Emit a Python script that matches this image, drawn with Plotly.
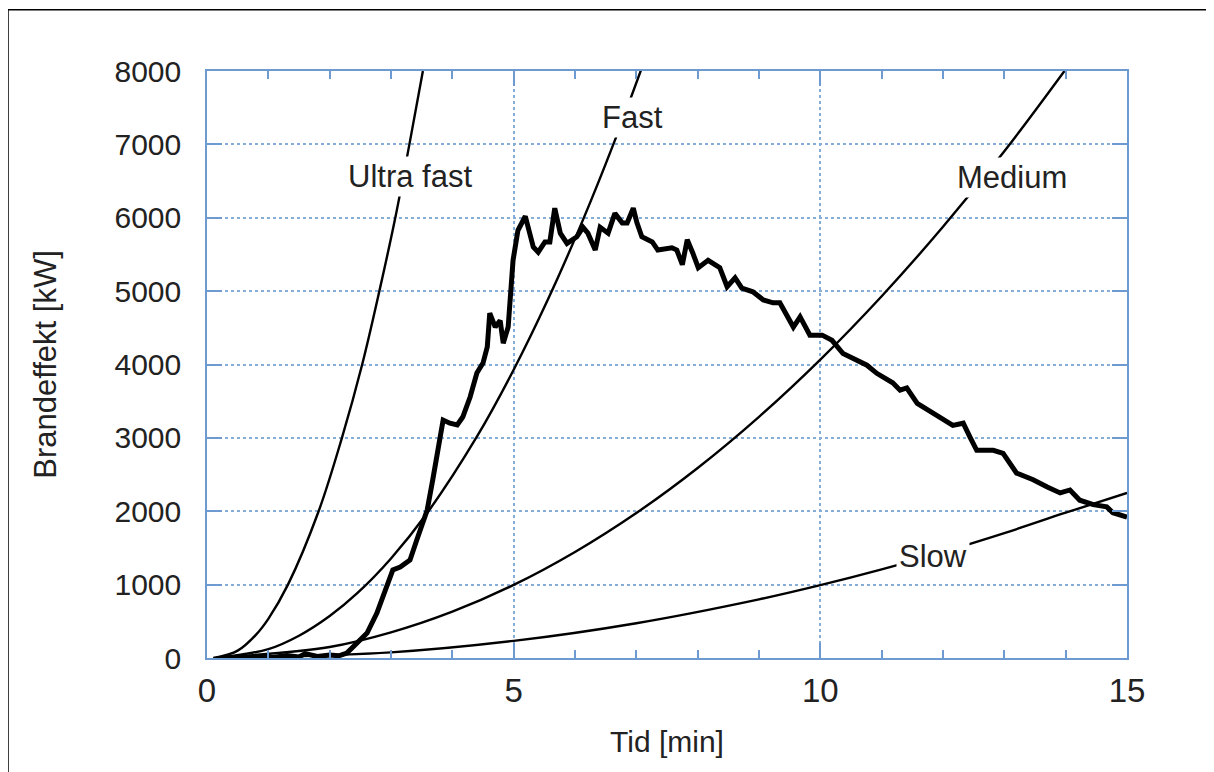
import plotly.graph_objects as go

# ---- data ----
ultra_t = [0.12, 0.5, 0.8, 1.0, 1.32, 1.82, 2.2, 2.53, 2.81, 3.07, 3.3, 3.52]
ultra_q = [0, 100, 319, 534, 1000, 2000, 3000, 4000, 5000, 6000, 7000, 8000]

fast_t = [0.15, 1.0, 1.5, 2.0, 2.45, 3.0, 3.59, 4.4, 5.0, 5.56, 6.13, 6.62, 7.09]
fast_q = [0, 121, 304, 572, 883, 1357, 1976, 3016, 3928, 4888, 5971, 6989, 8044]

medium_t = [0.1, 2, 3, 4, 5, 6, 7, 8, 9, 10, 11, 12, 13, 13.98]
medium_q = [0, 150, 349, 631, 996, 1445, 1976, 2590, 3287, 4067, 4931, 5877, 6906, 8000]

slow_t = [0.3, 3, 5, 7, 9, 10, 11, 12, 13, 14, 15]
slow_q = [0, 77, 233, 474, 799, 993, 1208, 1444, 1702, 1980, 2250]

test_t = [0.3, 0.8, 1.1, 1.3, 1.5, 1.6, 1.8, 2.0, 2.15, 2.28, 2.61, 2.77, 2.93, 3.03,
          3.15, 3.31, 3.42, 3.59, 3.68, 3.77, 3.85, 3.96, 4.08, 4.17, 4.29, 4.40,
          4.5, 4.57, 4.61, 4.7, 4.78, 4.83, 4.91, 4.99, 5.07, 5.19, 5.32, 5.4,
          5.51, 5.59, 5.67, 5.76, 5.87, 6.03, 6.13, 6.21, 6.33, 6.41, 6.54, 6.65,
          6.77, 6.85, 6.95, 7.01, 7.09, 7.26, 7.35, 7.58, 7.66, 7.75, 7.83, 7.92,
          8.01, 8.17, 8.25, 8.36, 8.48, 8.61, 8.72, 8.9, 9.07, 9.23, 9.34, 9.42,
          9.56, 9.67, 9.83, 10.03, 10.19, 10.37, 10.76, 10.92, 11.18, 11.3, 11.41,
          11.58, 11.74, 11.95, 12.16, 12.33, 12.44, 12.55, 12.82, 12.98, 13.2,
          13.47, 13.7, 13.91, 14.07, 14.23, 14.45, 14.67, 14.77, 15.0]
test_q = [0, 5, 10, 35, 15, 60, 20, 40, 30, 68, 340, 613, 967, 1200,
          1240, 1335, 1608, 2017, 2425, 2834, 3243, 3200, 3175, 3284, 3557, 3884,
          4020, 4240, 4700, 4510, 4600, 4290, 4510, 5420, 5830, 6020, 5600, 5530,
          5670, 5670, 6130, 5790, 5650, 5740, 5870, 5790, 5560, 5870, 5790, 6060,
          5930, 5930, 6130, 5930, 5740, 5670, 5560, 5590, 5560, 5360, 5700, 5520,
          5320, 5420, 5380, 5320, 5060, 5180, 5040, 4990, 4880, 4840, 4840, 4720,
          4510, 4650, 4400, 4400, 4330, 4150, 3990, 3880, 3750, 3650, 3680,
          3470, 3380, 3280, 3170, 3200, 3010, 2830, 2830, 2790, 2520,
          2430, 2330, 2250, 2290, 2150, 2090, 2060, 1980, 1920]

x_ticks = [0, 5, 10, 15]
y_ticks = [0, 1000, 2000, 3000, 4000, 5000, 6000, 7000, 8000]

labels = ["Ultra fast", "Fast", "Medium", "Slow"]
label_x = [3.31, 6.93, 13.13, 11.84]
label_y = [6569, 7360, 6542, 1390]

FONT = "Liberation Sans, Arial, sans-serif"
TXT_C = "#222222"
AXIS_C = "#6d9bd1"
GRID_C = "#86acd8"

fig = go.Figure()
for t, q in [(ultra_t, ultra_q), (fast_t, fast_q), (medium_t, medium_q), (slow_t, slow_q)]:
    fig.add_trace(go.Scatter(x=t, y=q, mode="lines", line=dict(color="black", width=2.4, shape="spline"),
                             showlegend=False, hoverinfo="skip"))
fig.add_trace(go.Scatter(x=test_t, y=test_q, mode="lines",
                         line=dict(color="black", width=5), showlegend=False))

for txt, lx, ly in zip(labels, label_x, label_y):
    fig.add_annotation(x=lx, y=ly, text=txt, showarrow=False, bgcolor="white",
                       font=dict(family=FONT, size=31, color=TXT_C), borderpad=2)

axis_common = dict(showline=True, linecolor=AXIS_C, linewidth=1.5, mirror="ticks",
                   ticks="inside", ticklen=15, tickcolor=AXIS_C, tickwidth=1.5,
                   showgrid=True, gridcolor=GRID_C, griddash="dot", gridwidth=1.5,
                   zeroline=False)

fig.update_xaxes(range=[0, 15], tickvals=x_ticks, ticktext=[str(v) for v in x_ticks],
                 minor=dict(ticks="inside", ticklen=8, dtick=1, tick0=0, tickcolor=AXIS_C, showgrid=False),
                 tickfont=dict(family=FONT, size=33, color=TXT_C),
                 title=dict(text="Tid [min]", font=dict(family=FONT, size=30, color=TXT_C), standoff=23),
                 ticklabelstandoff=3, **axis_common)
fig.update_yaxes(range=[0, 8000], tickvals=y_ticks, ticktext=[str(v) for v in y_ticks],
                 tickfont=dict(family=FONT, size=30, color=TXT_C),
                 title=dict(text="Brandeffekt [kW]", font=dict(family=FONT, size=31, color=TXT_C), standoff=49),
                 ticklabelstandoff=18, **axis_common)

# outer thin frame (top and left edges of the picture)
fig.add_shape(type="line", xref="paper", yref="paper", x0=-0.2163, x1=1.2, y0=1.1045, y1=1.1045,
              line=dict(color="black", width=1.5))
fig.add_shape(type="line", xref="paper", yref="paper", x0=-0.2163, x1=-0.2163, y0=1.1045, y1=-0.25,
              line=dict(color="black", width=1.5))

fig.update_layout(width=1214, height=772, paper_bgcolor="white", plot_bgcolor="white",
                  margin=dict(l=199, r=95, t=63, b=122), font=dict(family=FONT))

fig.write_html("out.html")
